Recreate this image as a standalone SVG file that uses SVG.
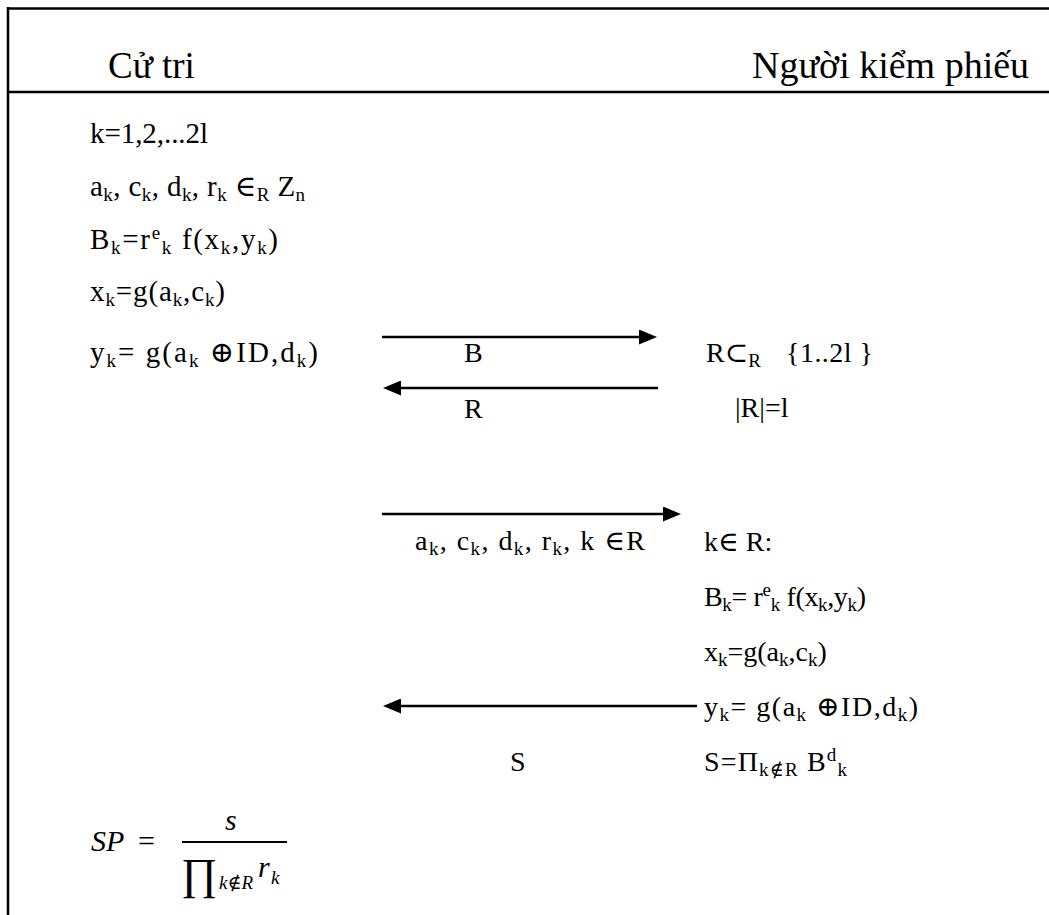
<svg xmlns="http://www.w3.org/2000/svg" width="1049" height="915" viewBox="0 0 1049 915" font-family="'Liberation Serif', 'DejaVu Serif', serif">
<style>
text { font-family: 'Liberation Serif', 'DejaVu Serif', serif; fill: #000; }
.t { font-size: 28px; }
.l { font-size: 29px; }
.s { font-size: 19px; }
.frame { stroke: #000; stroke-width: 2.5; fill: none; }
.conn line { stroke: #000; stroke-width: 2.5; }
.it { font-style: italic; }
</style>
<defs>
<marker id="ah" markerUnits="userSpaceOnUse" markerWidth="18" markerHeight="15" refX="9" refY="7.5" orient="auto">
<path d="M0,0 L18,7.5 L0,15 z" fill="#000"/>
</marker>
</defs>
<rect width="1049" height="915" fill="#fff"/>
<g id="frame">
<line class="frame" x1="7" y1="8.5" x2="1049" y2="8.5"/>
<line class="frame" x1="8" y1="7" x2="8" y2="915"/>
<line class="frame" x1="8" y1="92" x2="1049" y2="92"/>
</g>
<g id="voter-header"><text x="108" y="78" style="font-size:37px">Cử tri</text></g>
<g id="counter-header"><text x="752" y="78" style="font-size:38px">Người kiểm phiếu</text></g>

<g id="voter-steps">
<text class="l" x="90" y="143" textLength="118" lengthAdjust="spacing">k=1,2,...2l</text>
<text class="l" x="90" y="196" textLength="215" lengthAdjust="spacing">a<tspan class="s" dy="5">k</tspan><tspan dy="-5">, c</tspan><tspan class="s" dy="5">k</tspan><tspan dy="-5">, d</tspan><tspan class="s" dy="5">k</tspan><tspan dy="-5">, r</tspan><tspan class="s" dy="5">k</tspan><tspan dy="-5"> ∈</tspan><tspan class="s" dy="5">R</tspan><tspan dy="-5"> Z</tspan><tspan class="s" dy="5">n</tspan></text>
<text class="l" x="90" y="249" textLength="188" lengthAdjust="spacing">B<tspan class="s" dy="5">k</tspan><tspan dy="-5">=r</tspan><tspan class="s" dy="-10">e</tspan><tspan class="s" dy="15">k</tspan><tspan dy="-5"> f(x</tspan><tspan class="s" dy="5">k</tspan><tspan dy="-5">,y</tspan><tspan class="s" dy="5">k</tspan><tspan dy="-5">)</tspan></text>
<text class="l" x="90" y="301" textLength="135" lengthAdjust="spacing">x<tspan class="s" dy="5">k</tspan><tspan dy="-5">=g(a</tspan><tspan class="s" dy="5">k</tspan><tspan dy="-5">,c</tspan><tspan class="s" dy="5">k</tspan><tspan dy="-5">)</tspan></text>
<text class="l" x="90" y="362" textLength="228" lengthAdjust="spacing">y<tspan class="s" dy="5">k</tspan><tspan dy="-5">= g(a</tspan><tspan class="s" dy="5">k</tspan><tspan dy="-5"> ⊕ID,d</tspan><tspan class="s" dy="5">k</tspan><tspan dy="-5">)</tspan></text>
</g>

<g id="voter-result">
<text class="it" x="91" y="851" style="font-size:30px">SP</text>
<text x="138" y="851" style="font-size:30px">=</text>
<text class="it" x="225" y="830" style="font-size:30px">s</text>
<line x1="182" y1="842" x2="287" y2="842" stroke="#000" stroke-width="2"/>
<text x="181" y="889" style="font-size:44px">∏</text>
<text class="s it" x="219" y="889">k∉R</text>
<text class="it" x="258" y="877" style="font-size:30px">r</text>
<text class="s it" x="271" y="884">k</text>
</g>

<g id="counter-challenge">
<text class="t" x="706" y="362">R⊂<tspan class="s" dy="5">R</tspan></text>
<text class="t" x="786" y="362" textLength="87" lengthAdjust="spacing">{1..2l }</text>
<text class="t" x="735" y="417">|R|=l</text>
</g>

<g id="counter-verify">
<text class="t" x="704" y="551">k∈ R:</text>
<text class="t" x="704" y="606" textLength="162" lengthAdjust="spacing">B<tspan class="s" dy="5">k</tspan><tspan dy="-5">= r</tspan><tspan class="s" dy="-10">e</tspan><tspan class="s" dy="15">k</tspan><tspan dy="-5"> f(x</tspan><tspan class="s" dy="5">k</tspan><tspan dy="-5">,y</tspan><tspan class="s" dy="5">k</tspan><tspan dy="-5">)</tspan></text>
<text class="t" x="704" y="661">x<tspan class="s" dy="5">k</tspan><tspan dy="-5">=g(a</tspan><tspan class="s" dy="5">k</tspan><tspan dy="-5">,c</tspan><tspan class="s" dy="5">k</tspan><tspan dy="-5">)</tspan></text>
<text class="t" x="704" y="716" textLength="214" lengthAdjust="spacing">y<tspan class="s" dy="5">k</tspan><tspan dy="-5">= g(a</tspan><tspan class="s" dy="5">k</tspan><tspan dy="-5"> ⊕ID,d</tspan><tspan class="s" dy="5">k</tspan><tspan dy="-5">)</tspan></text>
<text class="t" x="704" y="771" textLength="143" lengthAdjust="spacing">S=Π<tspan class="s" dy="5">k∉R</tspan><tspan dy="-5"> B</tspan><tspan class="s" dy="-10">d</tspan><tspan class="s" dy="15">k</tspan></text>
</g>

<g id="connectors" class="conn">
<line x1="382" y1="337" x2="648" y2="337" marker-end="url(#ah)"/>
<text class="t" x="464" y="362">B</text>
<line x1="658" y1="388" x2="392" y2="388" marker-end="url(#ah)"/>
<text class="t" x="464" y="418">R</text>
<line x1="382" y1="514" x2="672" y2="514" marker-end="url(#ah)"/>
<text class="t" x="415" y="550" textLength="230" lengthAdjust="spacing">a<tspan class="s" dy="5">k</tspan><tspan dy="-5">, c</tspan><tspan class="s" dy="5">k</tspan><tspan dy="-5">, d</tspan><tspan class="s" dy="5">k</tspan><tspan dy="-5">, r</tspan><tspan class="s" dy="5">k</tspan><tspan dy="-5">, k ∈R</tspan></text>
<line x1="697" y1="706" x2="392" y2="706" marker-end="url(#ah)"/>
<text class="t" x="510" y="771">S</text>
</g>
</svg>
